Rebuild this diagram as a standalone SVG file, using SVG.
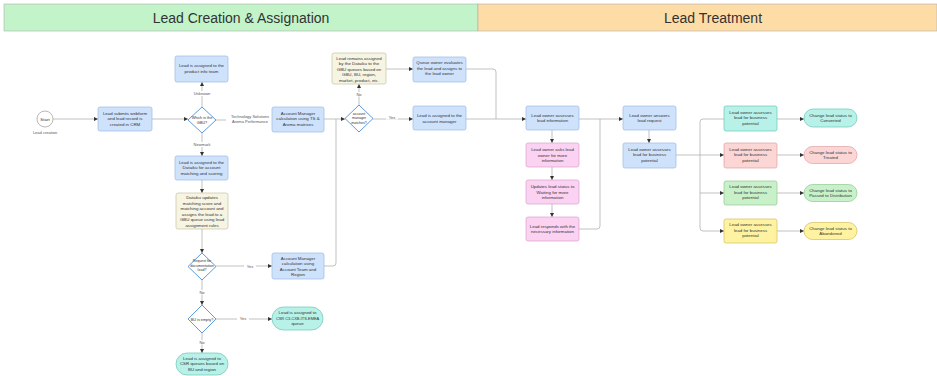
<svg xmlns="http://www.w3.org/2000/svg" width="937" height="376" viewBox="0 0 937 376">
<defs>
<marker id="ah" viewBox="0 0 6 6" refX="6" refY="3" markerWidth="4" markerHeight="4" orient="auto" markerUnits="userSpaceOnUse"><path d="M0,0 L6,3 L0,6 Z" fill="#333"/></marker>
<style>
.t{font-family:"Liberation Sans",Arial,sans-serif;font-size:4.4px;fill:#333;text-anchor:middle}
.lb{font-family:"Liberation Sans",Arial,sans-serif;font-size:4px;fill:#555;text-anchor:middle}
.hd{font-family:"Liberation Sans",Arial,sans-serif;font-size:14px;fill:#333;text-anchor:middle}
.c{fill:none;stroke:#a8a8a8;stroke-width:0.7}
.ca{fill:none;stroke:#a8a8a8;stroke-width:0.7;marker-end:url(#ah)}
.blue{fill:#cfe2fb;stroke:#9bb9e2;stroke-width:0.7}
.beige{fill:#f6f4e3;stroke:#c8c3a0;stroke-width:0.7}
.pink{fill:#fbd2f2;stroke:#d8a3cc;stroke-width:0.7}
.teal{fill:#b8f1e8;stroke:#6cc6b8;stroke-width:0.7}
.red{fill:#fcd5d5;stroke:#dea2a2;stroke-width:0.7}
.green{fill:#c9f1c9;stroke:#90c990;stroke-width:0.7}
.yellow{fill:#fff3a2;stroke:#d2bf5c;stroke-width:0.7}
.dia{fill:#fff;stroke:#4a90d9;stroke-width:0.9}
</style>
</defs>
<rect width="937" height="376" fill="#fff"/>
<g id="header">
<rect x="4" y="4" width="474" height="27" fill="#c2f3c9" stroke="#b0b0b0" stroke-width="0.6"/>
<rect x="478" y="4" width="459" height="27" fill="#fddca6" stroke="#b0b0b0" stroke-width="0.6"/>
<text class="hd" x="241" y="23">Lead Creation &amp; Assignation</text>
<text class="hd" x="713" y="23">Lead Treatment</text>
</g>
<g id="connectors">
<path class="ca" d="M53,119 H98"/>
<path class="ca" d="M152,119 H188"/>
<path class="ca" d="M202,107 V82"/>
<path class="ca" d="M216,120 H272"/>
<path class="ca" d="M202,133 V156"/>
<path class="ca" d="M202,180 V193"/>
<path class="ca" d="M202,229 V253"/>
<path class="ca" d="M216,266 H272"/>
<path class="ca" d="M202,280 V305"/>
<path class="ca" d="M216,319 H272"/>
<path class="ca" d="M202,333 V353"/>
<path class="ca" d="M324,119 H345"/>
<path class="c" d="M324,266 H333 Q336,266 336,263 V119"/>
<path class="ca" d="M359,105 V84"/>
<path class="ca" d="M386,69 H413"/>
<path class="ca" d="M373,119 H413"/>
<path class="c" d="M466,69 H493 Q496,69 496,72 V119"/>
<path class="ca" d="M466,119 H526"/>
<path class="ca" d="M552,130 V143"/>
<path class="ca" d="M552,167 V180"/>
<path class="ca" d="M552,204 V217"/>
<path class="c" d="M579,229 H597 Q600,229 600,226 V119"/>
<path class="ca" d="M579,119 H623"/>
<path class="ca" d="M649,130 V143"/>
<path class="c" d="M676,155 H700"/>
<path class="ca" d="M724,119 H703 Q700,119 700,122 V228 Q700,231 703,231 H724"/>
<path class="ca" d="M700,155 H724"/>
<path class="ca" d="M700,193 H724"/>
<path class="ca" d="M777,119 H804"/>
<path class="ca" d="M777,155 H804"/>
<path class="ca" d="M777,193 H804"/>
<path class="ca" d="M777,231 H804"/>
<rect x="193" y="91" width="18" height="5" fill="#fff"/>
<text class="lb" x="202" y="94.5">Unknown</text>
<rect x="226" y="114" width="48" height="10" fill="#fff"/>
<text class="lb" x="250" y="118">Technology Solutions</text>
<text class="lb" x="250" y="122.5">Aroma Performance</text>
<rect x="193" y="142" width="18" height="5" fill="#fff"/>
<text class="lb" x="202" y="145.5">Newmark</text>
<rect x="244" y="264" width="12" height="4.5" fill="#fff"/>
<text class="lb" x="250" y="267.5">Yes</text>
<rect x="196" y="290" width="12" height="4.5" fill="#fff"/>
<text class="lb" x="202" y="293.5">No</text>
<rect x="237" y="316" width="12" height="4.5" fill="#fff"/>
<text class="lb" x="243" y="319.5">Yes</text>
<rect x="196" y="340" width="12" height="4.5" fill="#fff"/>
<text class="lb" x="202" y="343.5">No</text>
<rect x="354" y="92" width="10" height="4.5" fill="#fff"/>
<text class="lb" x="359" y="95.5">No</text>
<rect x="386" y="115" width="12" height="4.5" fill="#fff"/>
<text class="lb" x="392" y="118.5">Yes</text>
</g>
<g id="start">
<circle cx="45" cy="119" r="8" fill="#fff" stroke="#999" stroke-width="0.7"/>
<text class="t" x="45" y="120.5">Start</text>
<text class="lb" x="45" y="134">Lead creation</text>
</g>
<g id="webform">
<rect class="blue" x="98" y="107" width="54" height="24" rx="2"/>
<text class="t" x="125" y="114.5">Lead submits webform</text>
<text class="t" x="125" y="120">and lead record is</text>
<text class="t" x="125" y="125.5">created in CRM</text>
</g>
<g id="obs-decision">
<path class="dia" d="M202,107 L216,120 L202,133 L188,120 Z"/>
<text class="t" x="202" y="119" style="font-size:3.8px">Which is the</text>
<text class="t" x="202" y="123.5" style="font-size:3.8px">GBU?</text>
</g>
<g id="product-info">
<rect class="blue" x="175" y="56" width="53" height="26" rx="2"/>
<text class="t" x="201.5" y="67">Lead is assigned to the</text>
<text class="t" x="201.5" y="72.5">product info team</text>
</g>
<g id="am-ts">
<rect class="blue" x="272" y="107" width="52" height="25" rx="2"/>
<text class="t" x="298" y="114.5">Account Manager</text>
<text class="t" x="298" y="120">calculation using TS &amp;</text>
<text class="t" x="298" y="125.5">Aroma matrixes</text>
</g>
<g id="dataiku-assign">
<rect class="blue" x="175" y="156" width="53" height="24" rx="2"/>
<text class="t" x="201.5" y="163.5">Lead is assigned to the</text>
<text class="t" x="201.5" y="169">Dataiku for account</text>
<text class="t" x="201.5" y="174.5">matching and scoring</text>
</g>
<g id="dataiku-updates">
<rect class="beige" x="176" y="193" width="52" height="36" rx="2"/>
<text class="t" x="202" y="199">Dataiku updates</text>
<text class="t" x="202" y="204.5">matching score and</text>
<text class="t" x="202" y="210">matching account and</text>
<text class="t" x="202" y="215.5">assigns the lead to a</text>
<text class="t" x="202" y="221">GBU queue using lead</text>
<text class="t" x="202" y="226.5">assignment rules</text>
</g>
<g id="doc-decision">
<path class="dia" d="M202,253 L216,266.5 L202,280 L188,266.5 Z"/>
<text class="t" x="202" y="262" style="font-size:3.6px">Request for</text>
<text class="t" x="202" y="266.5" style="font-size:3.6px">documentation</text>
<text class="t" x="202" y="271" style="font-size:3.6px">lead?</text>
</g>
<g id="am-team">
<rect class="blue" x="272" y="253" width="52" height="26" rx="2"/>
<text class="t" x="298" y="259.5">Account Manager</text>
<text class="t" x="298" y="265">calculation using</text>
<text class="t" x="298" y="270.5">Account Team and</text>
<text class="t" x="298" y="276">Region</text>
</g>
<g id="bu-decision">
<path class="dia" d="M202,305 L216,319 L202,333 L188,319 Z"/>
<text class="t" x="202" y="320.5" style="font-size:3.8px">BU is empty?</text>
</g>
<g id="csr-emea">
<rect class="teal" x="272" y="307" width="51" height="23" rx="11.5"/>
<text class="t" x="297.5" y="314">Lead is assigned to</text>
<text class="t" x="297.5" y="319.5" style="font-size:3.9px">CSR C3-CXB-ITS-EMEA</text>
<text class="t" x="297.5" y="325">queue</text>
</g>
<g id="csr-bu">
<rect class="teal" x="176" y="353" width="52" height="22" rx="11"/>
<text class="t" x="202" y="359.5">Lead is assigned to</text>
<text class="t" x="202" y="365">CSR queues based on</text>
<text class="t" x="202" y="370.5">BU and region</text>
</g>
<g id="am-decision">
<path class="dia" d="M359,105 L373,118.5 L359,132 L345,118.5 Z"/>
<text class="t" x="359" y="114.5" style="font-size:3.6px">account</text>
<text class="t" x="359" y="119" style="font-size:3.6px">manager</text>
<text class="t" x="359" y="123.5" style="font-size:3.6px">matches?</text>
</g>
<g id="gbu-queue">
<rect class="beige" x="332" y="53" width="54" height="31" rx="2"/>
<text class="t" x="359" y="59.5">Lead remains assigned</text>
<text class="t" x="359" y="65">by the Dataiku to the</text>
<text class="t" x="359" y="70.5">GBU queues based on</text>
<text class="t" x="359" y="76">GBU, BU, region,</text>
<text class="t" x="359" y="81.5">market, product, etc.</text>
</g>
<g id="queue-owner">
<rect class="blue" x="413" y="57" width="53" height="25" rx="2"/>
<text class="t" x="439.5" y="64">Queue owner evaluates</text>
<text class="t" x="439.5" y="69.5">the lead and assigns to</text>
<text class="t" x="439.5" y="75">the lead owner</text>
</g>
<g id="am-assigned">
<rect class="blue" x="413" y="106" width="53" height="24" rx="2"/>
<text class="t" x="439.5" y="117">Lead is assigned to the</text>
<text class="t" x="439.5" y="122.5">account manager</text>
</g>
<g id="lead-info">
<rect class="blue" x="526" y="106" width="53" height="24" rx="2"/>
<text class="t" x="552.5" y="116.5">Lead owner assesses</text>
<text class="t" x="552.5" y="122">lead information</text>
</g>
<g id="asks-info">
<rect class="pink" x="526" y="143" width="53" height="24" rx="2"/>
<text class="t" x="552.5" y="151">Lead owner asks lead</text>
<text class="t" x="552.5" y="156.5">owner for more</text>
<text class="t" x="552.5" y="162">information</text>
</g>
<g id="waiting">
<rect class="pink" x="526" y="180" width="53" height="24" rx="2"/>
<text class="t" x="552.5" y="188">Updates lead status to</text>
<text class="t" x="552.5" y="193.5">Waiting for more</text>
<text class="t" x="552.5" y="199">information</text>
</g>
<g id="responds">
<rect class="pink" x="526" y="217" width="53" height="24" rx="2"/>
<text class="t" x="552.5" y="227.5">Lead responds with the</text>
<text class="t" x="552.5" y="233">necessary information</text>
</g>
<g id="answers">
<rect class="blue" x="623" y="106" width="53" height="24" rx="2"/>
<text class="t" x="649.5" y="116.5">Lead owner answers</text>
<text class="t" x="649.5" y="122">lead request</text>
</g>
<g id="business">
<rect class="blue" x="623" y="143" width="53" height="25" rx="2"/>
<text class="t" x="649.5" y="150.5">Lead owner assesses</text>
<text class="t" x="649.5" y="156">lead for business</text>
<text class="t" x="649.5" y="161.5">potential</text>
</g>
<g id="assess-teal">
<rect class="teal" x="724" y="106" width="53" height="25" rx="2"/>
<text class="t" x="750.5" y="113.5">Lead owner assesses</text>
<text class="t" x="750.5" y="119">lead for business</text>
<text class="t" x="750.5" y="124.5">potential</text>
</g>
<g id="assess-red">
<rect class="red" x="724" y="143" width="53" height="25" rx="2"/>
<text class="t" x="750.5" y="150.5">Lead owner assesses</text>
<text class="t" x="750.5" y="156">lead for business</text>
<text class="t" x="750.5" y="161.5">potential</text>
</g>
<g id="assess-green">
<rect class="green" x="724" y="181" width="53" height="24" rx="2"/>
<text class="t" x="750.5" y="188">Lead owner assesses</text>
<text class="t" x="750.5" y="193.5">lead for business</text>
<text class="t" x="750.5" y="199">potential</text>
</g>
<g id="assess-yellow">
<rect class="yellow" x="724" y="219" width="53" height="24" rx="2"/>
<text class="t" x="750.5" y="226">Lead owner assesses</text>
<text class="t" x="750.5" y="231.5">lead for business</text>
<text class="t" x="750.5" y="237">potential</text>
</g>
<g id="converted">
<rect class="teal" x="804" y="109" width="53" height="18" rx="9"/>
<text class="t" x="830.5" y="116.5">Change lead status to</text>
<text class="t" x="830.5" y="122">Converted</text>
</g>
<g id="treated">
<rect class="red" x="804" y="146.5" width="53" height="17" rx="8.5"/>
<text class="t" x="830.5" y="153.5">Change lead status to</text>
<text class="t" x="830.5" y="159">Treated</text>
</g>
<g id="distribution">
<rect class="green" x="804" y="184.5" width="53" height="17" rx="8.5"/>
<text class="t" x="830.5" y="191.5">Change lead status to</text>
<text class="t" x="830.5" y="197">Passed to Distribution</text>
</g>
<g id="abandoned">
<rect class="yellow" x="804" y="222.5" width="53" height="17" rx="8.5"/>
<text class="t" x="830.5" y="229.5">Change lead status to</text>
<text class="t" x="830.5" y="235">Abandoned</text>
</g>
</svg>
